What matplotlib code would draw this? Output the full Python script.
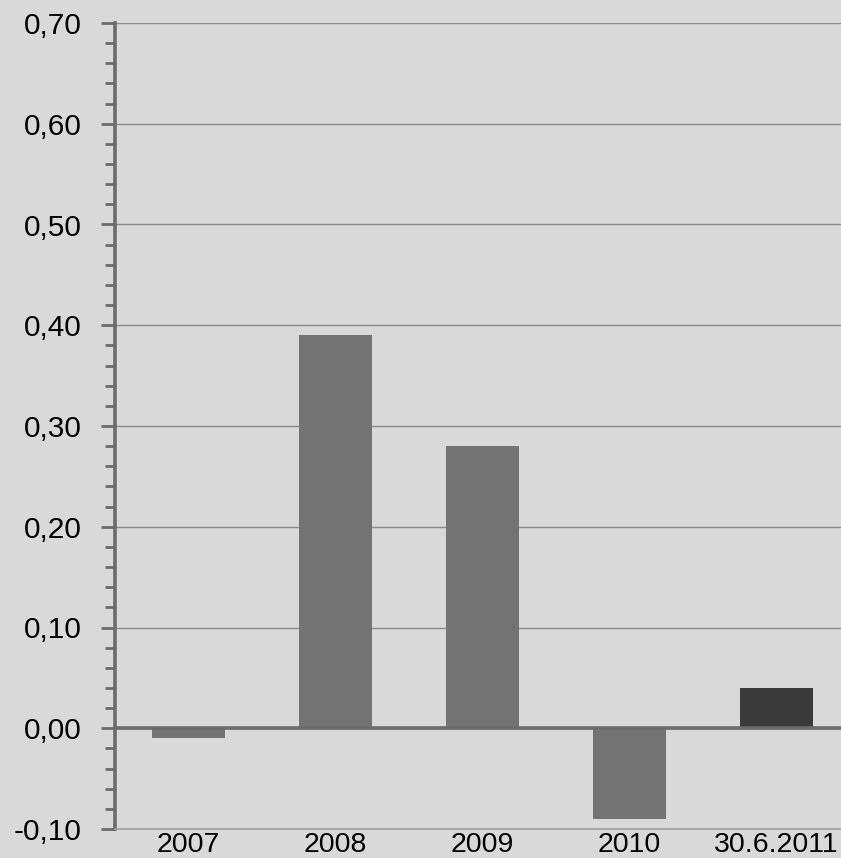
import matplotlib
matplotlib.use("Agg")
import matplotlib.pyplot as plt
from matplotlib.ticker import MultipleLocator, FuncFormatter

categories = ["2007", "2008", "2009", "2010", "30.6.2011"]
values = [-0.01, 0.39, 0.28, -0.09, 0.04]
bar_colors = ["#737373", "#737373", "#737373", "#737373", "#3a3a3a"]

plt.rcParams['font.family'] = ['Liberation Sans', 'DejaVu Sans']
bg = "#d9d9d9"
fig = plt.figure(figsize=(8.41, 8.58), dpi=100, facecolor=bg)
# axes: left 115px, right ~850px (extends past figure edge), top y=23, bottom y=829
W, H = 841, 858
ax = fig.add_axes([115 / W, (H - 829) / H, (850 - 115) / W, (829 - 23) / H])
ax.set_facecolor(bg)

x = list(range(len(categories)))
ax.bar(x, values, width=0.5, color=bar_colors, zorder=3)

ax.set_xlim(-0.5, len(categories) - 0.5)
ax.set_ylim(-0.10, 0.70)
ax.yaxis.set_major_locator(MultipleLocator(0.1))
ax.yaxis.set_minor_locator(MultipleLocator(0.02))
ax.yaxis.set_major_formatter(FuncFormatter(lambda v, p: f"{v:.2f}".replace(".", ",").replace("-0,00", "0,00")))
ax.grid(axis='y', which='major', color="#8a8a8a", linewidth=1.0, zorder=1)
ax.axhline(0, color="#6b6b6b", linewidth=2.6, zorder=4)

ax.set_xticks(x)
ax.set_xticklabels(categories)
ax.tick_params(axis='x', length=0, pad=2, labelsize=20.5)
ax.tick_params(axis='y', which='major', length=10, width=2, color="#6b6b6b", labelsize=21.5, pad=14)
ax.tick_params(axis='y', which='minor', length=7, width=2, color="#6b6b6b")

for s in ['top', 'right']:
    ax.spines[s].set_visible(False)
ax.spines['left'].set_color("#6b6b6b")
ax.spines['left'].set_linewidth(2.6)
ax.spines['bottom'].set_color("#a0a0a0")
ax.spines['bottom'].set_linewidth(1.2)

fig.savefig("out.png", dpi=100, facecolor=bg)
